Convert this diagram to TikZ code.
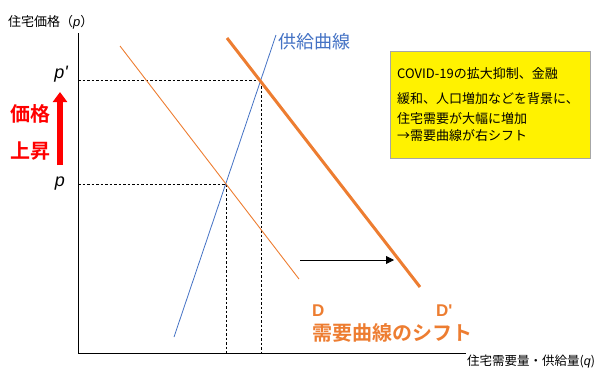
\documentclass[tikz,border=0pt]{standalone}
\usepackage{fontspec}
\setmainfont{Noto Sans CJK JP}
\newfontfamily\jpbold{Noto Sans CJK JP Bold}
\newfontfamily\latit{Liberation Sans}
\usetikzlibrary{arrows.meta}
\definecolor{supblue}{HTML}{4472C4}
\definecolor{demor}{HTML}{ED7D31}
\tikzset{
  axis/.style={line width=1pt, black},
  guide/.style={dashed, line width=0.7pt, dash pattern=on 2.5pt off 2pt},
  lbl/.style={inner sep=0pt, anchor=west},
  pl/.style={inner sep=0pt, font=\fontsize{18}{18}\selectfont\latit\itshape},
}
\begin{document}
\begin{tikzpicture}[x=1pt,y=-1pt]
\useasboundingbox (0,0) rectangle (615,370);
% axes
\coordinate (O) at (78,353);
\coordinate (Ytop) at (78,33);
\coordinate (Xend) at (466,353);
\draw[axis] (Ytop) -- (O) -- (Xend);
\node[lbl] (ylab) at (8,22) {\fontsize{13}{13}\selectfont 住宅価格（{\latit\itshape p}）};
\node[lbl] (xlab) at (467,362) {\fontsize{12.5}{13}\selectfont 住宅需要量・供給量({\latit\itshape q})};
% price labels
\node[pl] (pp) at (61,74) {p'};
\node[pl] (p) at (60,184) {p};
% guides
\coordinate (E1) at (226,184);
\coordinate (E2) at (261,80);
\draw[guide] (78,184) -- (E1) -- (E1 |- O);
\draw[guide] (78,80) -- (E2) -- (E2 |- O);
% curves
\coordinate (S1) at (174,337); \coordinate (S2) at (276,35);
\draw[supblue, line width=0.8pt] (S1) -- (S2);
\coordinate (D1) at (120,46); \coordinate (D2) at (299,279);
\draw[demor, line width=0.9pt] (D1) -- (D2);
\coordinate (Dp1) at (227,38); \coordinate (Dp2) at (420,287);
\draw[demor, line width=3pt] (Dp1) -- (Dp2);
% shift arrow
\coordinate (A1) at (300,260); \coordinate (A2) at (394,260);
\draw[line width=0.8pt, -{Triangle[length=8pt,width=8pt]}] (A1) -- (A2);
% red arrow
\coordinate (R1) at (60,165); \coordinate (R2) at (60,92);
\draw[red, line width=6pt, -{Triangle[length=10pt,width=14pt]}] (R1) -- (R2);
\node[inner sep=0pt, text=red] (kakaku) at (30,114) {\fontsize{20}{20}\selectfont\jpbold 価格};
\node[inner sep=0pt, text=red] (josho) at (30,151) {\fontsize{20}{20}\selectfont\jpbold 上昇};
% supply label
\node[lbl, text=supblue] (slab) at (278,42) {\fontsize{18}{18}\selectfont 供給曲線};
% D labels
\node[lbl, text=demor] (Dl) at (312,311) {\fontsize{17}{17}\selectfont\latit\bfseries D};
\node[lbl, text=demor] (Dpl) at (436,311) {\fontsize{17}{17}\selectfont\latit\bfseries D'};
\node[lbl, text=demor] (shift) at (312,333) {\fontsize{20}{20}\selectfont\jpbold 需要曲線のシフト};
% yellow box
\node[draw=gray!70, fill=yellow, line width=0.6pt, minimum width=200pt, minimum height=107pt, anchor=north west, inner sep=0pt] (box) at (390,51) {};
\node[lbl] (t1) at (397,74) {\fontsize{13}{13}\selectfont COVID-19の拡大抑制、金融};
\node[lbl] (t2) at (397,99) {\fontsize{13}{13}\selectfont 緩和、人口増加などを背景に、};
\node[lbl] (t3) at (397,119) {\fontsize{13}{13}\selectfont 住宅需要が大幅に増加};
\node[lbl] (t4) at (397,136) {\fontsize{13}{13}\selectfont →需要曲線が右シフト};
\end{tikzpicture}
\end{document}
